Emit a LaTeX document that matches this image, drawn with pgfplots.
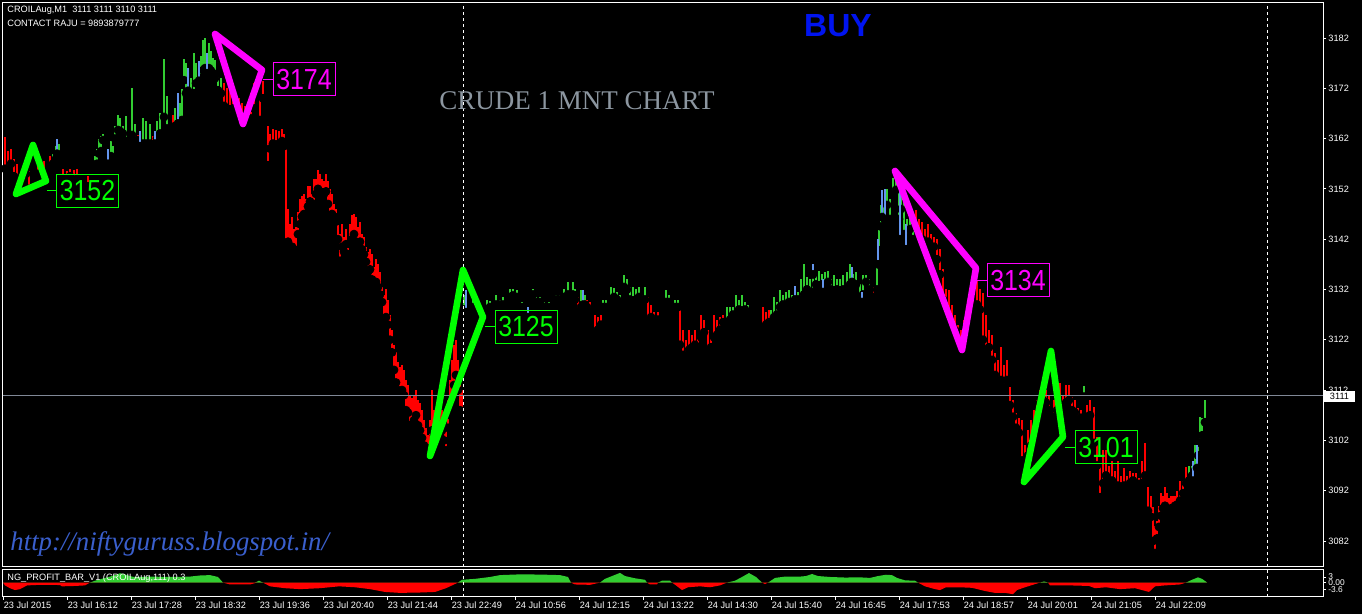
\documentclass[border=0pt]{standalone}
\usepackage{fontspec}
\setmainfont{Liberation Sans}
\newfontfamily\seriffont{Liberation Serif}
\usepackage{graphicx}
\usepackage{xcolor}
\usepackage{pgfplots}
\usepackage{pgfplotstable}
\pgfplotsset{compat=1.18}

\definecolor{mtgreen}{RGB}{50,205,50}
\definecolor{mtred}{RGB}{255,0,0}
\definecolor{mtblue}{RGB}{100,149,237}
\definecolor{neongreen}{RGB}{0,255,0}
\definecolor{neonmag}{RGB}{255,0,255}
\definecolor{pricegray}{RGB}{128,136,150}
\definecolor{titlegray}{RGB}{140,150,160}
\definecolor{urlblue}{RGB}{58,95,205}
\definecolor{buyblue}{RGB}{0,20,240}

\newcommand{\mtfont}{\fontsize{4.6}{5}\selectfont}

% bars: x (chart px), low, high
\pgfplotstableread{
x lo hi
5 3156 3162.3
8 3155 3159.5
11 3157 3160
14 3154.5 3158
17 3153.5 3157
20 3152 3155
23 3153 3156.5
26 3155 3157
29 3152 3155.5
38 3155 3158
44 3154 3157.5
50 3156.5 3158.5
63 3154 3156
67 3153.5 3155.5
70 3154.5 3156
74 3153.8 3155.8
77 3154 3156
88 3152.5 3154.5
138 3161.7 3162.7
153 3160.5 3162.5
173 3163.7 3166.7
224 3168.5 3173
227 3168 3172
230 3166.5 3171.5
233 3168 3172
236 3167 3170.5
239 3166 3170
242 3166 3169
245 3166.6 3168.5
248 3165 3169
251 3166 3171
254 3168 3173
257 3171 3173.6
260 3165.7 3169.7
263 3170 3173.5
268 3156.7 3164.5
270 3160 3163
273 3161 3164
276 3160.5 3163.7
279 3161 3163.5
282 3161.5 3164
284 3160.5 3163
286 3140.4 3160.5
288 3141.5 3148
290 3139.5 3145
292 3140.5 3146.5
294 3140 3144
296 3139.5 3144.5
298 3143 3147.5
300 3145 3150
302 3146.5 3150.5
304 3147 3151
306 3147 3150
308 3148.5 3152.5
310 3149.5 3152.5
312 3148 3151
314 3149 3154
316 3151 3154
318 3152 3155.8
320 3151.5 3155
322 3150 3154
324 3151 3153.5
326 3151.5 3155
328 3149 3153.5
330 3146.5 3152
332 3147 3151
334 3146.5 3149
336 3145.5 3148
338 3142 3145
340 3137.7 3143
342 3140.5 3145
344 3139.5 3142.5
346 3141 3144
348 3139 3141
350 3141 3145
352 3142 3146.8
354 3143 3147
356 3141.5 3146.5
358 3140.5 3144.5
360 3141.5 3145.5
362 3140 3143
364 3139 3142.5
366 3137.5 3140.5
368 3135.5 3139.5
370 3136 3140
372 3134 3139
374 3133.3 3136.5
376 3133.5 3138
378 3132.5 3137
380 3131 3135.5
382 3129.5 3132.5
384 3125.5 3131
386 3126.5 3132
388 3125 3130
390 3122 3127
392 3119.5 3124
394 3116 3121
396 3113.5 3119.5
398 3112 3117.5
400 3111 3116.5
402 3112 3117
404 3111 3116
406 3108 3114
408 3107.5 3113
410 3105 3111
412 3103.8 3110.5
414 3106 3111
416 3107 3112
418 3105 3110
420 3104 3109.5
422 3102.5 3108
424 3101 3106
426 3100 3104.5
428 3099.5 3103
430 3100.5 3106
432 3104 3112
434 3103 3108
436 3102.5 3107
438 3101.5 3106
440 3103 3107.5
442 3104 3108
444 3102 3106
446 3100 3104.5
448 3104.5 3110
450 3107 3114
452 3110 3118
454 3113 3121
456 3115 3122
458 3112 3118
460 3108 3114
462 3107 3112
578 3127.5 3130.5
582 3128 3130.5
587 3128.5 3130
590 3127.5 3129.5
595 3123.6 3127
598 3124 3126.5
601 3125 3127
648 3125.5 3130.5
651 3126.5 3129
654 3125.5 3127.5
658 3126 3127.5
680 3121 3128.5
683 3119 3124
686 3118.6 3122
689 3120 3124
692 3120.5 3123
695 3121 3124
698 3120 3122.5
701 3122.5 3127
704 3123.5 3126
708 3119.5 3124
711 3120.5 3122.5
714 3122.5 3127
717 3123 3126
720 3124 3126.5
723 3125.5 3127
763 3124.5 3128.5
766 3125 3127.5
769 3125.5 3128
874 3130.5 3132.5
916 3143 3147.8
919 3141 3146
922 3142 3145.5
925 3140 3144
928 3141.5 3145
931 3139.9 3143
934 3140.5 3142.5
937 3138 3142
940 3135 3140
943 3130 3136
946 3127 3132
949 3126 3131.9
952 3124 3129
955 3123.9 3127
958 3121 3125
961 3120.5 3124
964 3122 3126
967 3124 3128
970 3126 3129
973 3128 3132
977 3129 3133.9
980 3128 3132
983 3122 3131.3
986 3120 3127
989 3120.5 3124
992 3118 3123
995 3115 3119.4
998 3113.5 3118
1001 3114 3120.6
1004 3112.6 3117
1007 3114 3118
1010 3109 3112.6
1013 3106.7 3110
1016 3104.5 3107.5
1019 3103.5 3106.5
1022 3098 3106
1025 3096.7 3101
1028 3099 3104
1031 3101 3106
1034 3102 3108
1037 3104 3110
1040 3109.5 3112
1043 3110 3114
1046 3109.5 3112
1049 3108 3111
1054 3106.7 3110
1057 3108 3111.5
1060 3109 3113.5
1063 3108.5 3111
1066 3109.5 3113
1069 3110 3113
1072 3108 3110.7
1075 3107.5 3110
1078 3106 3108.5
1081 3106.5 3108
1087 3106.7 3109
1090 3107 3110
1094 3101.5 3108.7
1097 3097 3102.7
1100 3090.7 3097
1103 3093.5 3100
1106 3095 3100
1109 3093.5 3097
1112 3094 3098
1115 3092 3096
1118 3093 3098
1121 3091.6 3095
1124 3093 3096.5
1127 3092 3095
1130 3093.5 3096
1133 3094 3095.5
1136 3093.5 3095.5
1139 3092.5 3094.5
1142 3093.5 3098
1145 3095 3101.5
1148 3088 3092.8
1151 3086.8 3091
1153 3082 3088.8
1155 3079.6 3085
1157 3082.5 3086
1159 3084.8 3089
1161 3087 3091.6
1163 3088.5 3091
1165 3089 3092.8
1167 3088 3091.5
1169 3087.6 3090.5
1171 3088.5 3091
1173 3088 3091
1175 3089 3091
1177 3089.2 3092
1180 3090 3094
1183 3091.5 3094
1186 3093.5 3096.7
}\redbars

\pgfplotstableread{
x lo hi
53 3157 3159
56 3158 3160.5
59 3158.5 3161
95 3156.5 3158.5
97 3157 3160
99 3159 3162
101 3159.5 3162.5
103 3161.7 3162.9
111 3158.5 3161.5
113 3158 3160.5
115 3162 3164.5
118 3163.7 3166.7
120 3163.5 3166
123 3163 3164.5
126 3161.5 3166.5
132 3162.7 3172
135 3161.5 3165
143 3161 3166
146 3161 3165.5
150 3161 3165
157 3162 3165.5
160 3163 3167
164 3166.3 3177.8
167 3164 3170.5
175 3164.5 3168
180 3164 3169
182 3165.7 3171.8
184 3173.6 3177.8
186 3171 3177
191 3170.5 3174
194 3171 3179
196 3173 3177
201 3174 3178.5
203 3175.6 3181.6
205 3176 3182
209 3176 3181
211 3175.5 3179.5
213 3175 3178
215 3174 3177.6
218 3171.6 3174.2
221 3171 3174
464 3128 3131
473 3128.5 3130
487 3128 3130
490 3128.5 3129.8
496 3129 3131
500 3129 3130
503 3129 3130.5
510 3130.5 3132
513 3130.8 3132
517 3130.5 3131.8
522 3128.5 3129.5
533 3131 3132
536 3129.5 3130.5
540 3129.5 3130.5
544 3128.5 3129.5
549 3128.5 3129.5
556 3130 3131
560 3130 3131
564 3130.5 3132
568 3131 3133.5
573 3131 3133.5
575 3130 3132
581 3128.5 3131.9
585 3129 3131
603 3128.5 3130
606 3128.5 3130
611 3130 3132.5
614 3130.5 3132.3
617 3130 3131.5
620 3129.5 3131
624 3132.5 3134.9
627 3132 3134
630 3130 3132.5
633 3129.5 3132.5
636 3130 3132
639 3130.5 3132.5
642 3129.5 3131
645 3130 3132.5
666 3129.5 3131.9
669 3129.5 3131
675 3128.5 3130
678 3128.5 3130
727 3125.5 3128.5
730 3126 3128.5
733 3127 3128.5
736 3127 3131
739 3128 3130
742 3127.5 3131
745 3128 3129.5
748 3127 3129
771 3125.5 3128
774 3126.5 3130.5
777 3127 3129.5
780 3128.5 3131.9
783 3129 3131
786 3128.5 3131.5
789 3129.5 3131.9
792 3129 3131
798 3130 3131.5
801 3129.5 3134
804 3131 3137
807 3132 3134.5
810 3131 3134
813 3131.5 3136
816 3133 3135
819 3132.3 3135.7
822 3133 3135
825 3132.5 3135.5
828 3133.5 3135.7
831 3132 3134
834 3131.3 3134.9
837 3132 3134
840 3131.5 3134
843 3132 3134.9
847 3132 3135.5
850 3133 3137
853 3132.5 3135
856 3133 3135.5
860 3130.5 3133
863 3131 3134.9
866 3133.5 3134.9
869 3132 3134
877 3132 3137
879 3139.8 3143.8
881 3144.5 3148.8
884 3146.4 3148.8
887 3148.8 3152
890 3146 3150
893 3150.8 3154.1
896 3151.8 3154.2
899 3146 3152
901 3148 3153
904 3143 3149.8
907 3141.8 3146
910 3144 3147
913 3142 3146
1084 3110.7 3112.8
1189 3094 3097
1192 3095 3097
1195 3096 3101
1198 3099 3102
1200 3101.5 3106.7
1202 3103 3106.5
1205 3105.6 3110
}\greenbars

\pgfplotstableread{
x lo hi
57 3159 3162
108 3157 3160
140 3160.5 3163.5
155 3161 3163.5
178 3165 3171
188 3171.5 3176
199 3173.5 3177.5
207 3175 3179
466 3127.5 3131.9
528 3126.5 3128.5
583 3129 3131.9
795 3130 3132.6
813 3135 3137
823 3131.5 3134
852 3133.5 3136.5
862 3129.5 3131.5
878 3137 3142
882 3146.4 3151.8
885 3145.8 3152
900 3142 3152
906 3140 3145
1193 3094 3098
1197 3096.5 3101
}\bluebars

\pgfplotsset{
  bars/.style={only marks, mark=none, forget plot,
    error bars/.cd, y dir=plus, y explicit, error mark=none,
    error bar style={draw=#1, line width=0.9pt}},
}

\begin{document}
\begin{tikzpicture}
\fill[black] (0,0) rectangle (681pt,307pt);

\begin{axis}[
  at={(1.5pt,23.5pt)}, anchor=south west,
  scale only axis, width=660pt, height=282pt,
  xmin=3, xmax=1323, ymin=3076.83, ymax=3188.96,
  axis line style={white, line width=0.5pt},
  xtick=\empty,
  ytick={3082,3092,3102,3112,3122,3132,3142,3152,3162,3172,3182},
  yticklabels={3082,3092,3102,3112,3122,3132,3142,3152,3162,3172,3182},
  ytick pos=right, yticklabel pos=right,
  tick align=outside, major tick length=1.5pt,
  tick style={white, line width=0.4pt},
  yticklabel style={font=\mtfont, text=white, inner sep=1pt},
  clip mode=individual,
]
\addplot[bars=mtred] table[x=x, y=lo, y error expr=\thisrow{hi}-\thisrow{lo}] {\redbars};
\addplot[bars=mtgreen] table[x=x, y=lo, y error expr=\thisrow{hi}-\thisrow{lo}] {\greenbars};
\addplot[bars=mtblue] table[x=x, y=lo, y error expr=\thisrow{hi}-\thisrow{lo}] {\bluebars};

% current price line
\addplot[pricegray, line width=0.5pt] coordinates {(3,3111) (1323,3111)};
% period separators
\addplot[white, line width=0.5pt, dash pattern=on 1.5pt off 1.5pt] coordinates {(463,3076.83) (463,3188.96)};
\addplot[white, line width=0.5pt, dash pattern=on 1.5pt off 1.5pt] coordinates {(1267,3076.83) (1267,3188.96)};

% pattern triangles
\addplot[neongreen, line width=3.3pt, line join=round, line cap=round]
  coordinates {(16,3150.99) (33,3160.73) (46,3153.57) (16,3150.99)};
\addplot[neonmag, line width=3.3pt, line join=round, line cap=round]
  coordinates {(215,3182.8) (262,3175.64) (243,3164.9) (215,3182.8)};
\addplot[neongreen, line width=3.3pt, line join=round, line cap=round]
  coordinates {(430,3098.9) (463,3135.88) (483,3126.53) (430,3098.9)};
\addplot[neonmag, line width=3.3pt, line join=round, line cap=round]
  coordinates {(895,3155.56) (976,3136.27) (962,3119.97) (895,3155.56)};
\addplot[neongreen, line width=3.3pt, line join=round, line cap=round]
  coordinates {(1024,3093.73) (1051,3119.77) (1063,3102.68) (1024,3093.73)};

% connectors
\addplot[neongreen, line width=0.5pt] coordinates {(47,3151.7) (57,3151.7)};
\addplot[neonmag, line width=0.5pt] coordinates {(263,3173.75) (273,3173.75)};
\addplot[neongreen, line width=0.5pt] coordinates {(485,3124.64) (495,3124.64)};
\addplot[neonmag, line width=0.5pt] coordinates {(977,3133.8) (987,3133.8)};
\addplot[neongreen, line width=0.5pt] coordinates {(1065,3100.6) (1075,3100.6)};

\tikzset{lvl/.style={draw=#1, text=#1, line width=0.5pt, inner sep=0pt,
  minimum width=31pt, minimum height=16.5pt, font=\fontsize{14.5}{15}\selectfont}}
\node[lvl=neongreen] at (axis cs:87.5,3151.68) {\scalebox{0.86}[1]{3152}};
\node[lvl=neonmag] at (axis cs:304,3173.75) {\scalebox{0.86}[1]{3174}};
\node[lvl=neongreen] at (axis cs:526,3124.64) {\scalebox{0.86}[1]{3125}};
\node[lvl=neonmag] at (axis cs:1018,3133.8) {\scalebox{0.86}[1]{3134}};
\node[lvl=neongreen] at (axis cs:1106,3100.6) {\scalebox{0.86}[1]{3101}};
\end{axis}

\begin{axis}[
  at={(1.5pt,8.5pt)}, anchor=south west,
  scale only axis, width=660pt, height=13.5pt,
  xmin=3, xmax=1323, ymin=-7.7, ymax=6.74,
  axis line style={white, line width=0.5pt},
  xtick={3,67,131,195,259,323,387,451,515,579,643,707,771,835,899,963,1027,1091,1155},
  xticklabels={23 Jul 2015,23 Jul 16:12,23 Jul 17:28,23 Jul 18:32,23 Jul 19:36,23 Jul 20:40,23 Jul 21:44,23 Jul 22:49,24 Jul 10:56,24 Jul 12:15,24 Jul 13:22,24 Jul 14:30,24 Jul 15:40,24 Jul 16:45,24 Jul 17:53,24 Jul 18:57,24 Jul 20:01,24 Jul 21:05,24 Jul 22:09},
  xtick pos=bottom, xticklabel pos=bottom,
  ytick={-3.6,0,3}, yticklabels={-3.6,0.00,3},
  ytick pos=right, yticklabel pos=right,
  tick align=outside, major tick length=1.5pt,
  tick style={white, line width=0.4pt},
  xticklabel style={font=\mtfont, text=white, anchor=north west, inner sep=0.5pt, xshift=-0.3pt},
  yticklabel style={font=\fontsize{4.2}{4.5}\selectfont, text=white, inner sep=1pt},
]
\addplot[fill=mtgreen, draw=none] coordinates {
(3,0)(90,0)(95,1)(105,2.5)(112,3.5)(120,5)(124,4.5)(130,3.5)(134,3)(150,3.2)(170,3)(190,3.2)(200,3.8)(210,4)(218,3)(223,0)
(255,0)(259,1)(263,0)(458,0)(462,1.5)(475,2)(490,3)(500,4)(520,4.4)(540,4.3)(560,4)(568,3)(571,0)
(600,0)(605,2)(612,3.5)(620,5.2)(625,3.5)(635,2.3)(645,1.5)(647,0)(658,0)(662,1)(670,1)(672,0)
(727,0)(735,1)(742,3)(749,5.1)(756,3)(762,0)(768,0)(775,2.5)(785,3.2)(800,3.2)(806,3.5)(812,4.6)(818,3.5)
(830,3)(845,2.7)(860,2.8)(870,2.5)(878,3.5)(886,4.2)(892,4)(897,2.5)(905,1.2)(915,1)(918,0)
(1040,0)(1044,0.6)(1048,0)(1186,0)(1192,1.5)(1198,2.8)(1202,2)(1206,0.5)(1207,0)
} \closedcycle;
\addplot[fill=mtred, draw=none] coordinates {
(3,0)(5,-1.5)(10,-3)(15,-4)(20,-3.5)(27,-1.5)(40,-1.2)(60,-1.3)(62,-2)(75,-1.8)(85,-1.5)(90,0)
(223,0)(230,-1)(250,-1)(257,0)(263,0)(270,-2)(285,-3)(300,-3.5)(320,-3)(339,-2)(355,-2.5)(370,-3.5)
(385,-5)(400,-5.5)(420,-5.3)(435,-5)(446,-3)(458,0)(571,0)(575,-1)(590,-1.2)(600,0)
(647,0)(650,-1)(657,-1)(658,0)(672,0)(676,-1.5)(682,-4)(688,-2.5)(700,-2)(710,-2.5)(720,-1.5)(727,0)
(762,0)(765,-0.8)(768,0)(918,0)(925,-2)(935,-3.5)(940,-4)(946,-2.5)(960,-2.5)(972,-2.8)(985,-4.5)
(995,-5.5)(1005,-5.5)(1013,-6.2)(1017,-4)(1025,-2.5)(1040,0)(1048,0)(1050,-1.5)(1070,-1.5)(1089,-1.8)
(1095,-3)(1106,-2.5)(1120,-3.5)(1135,-3)(1149,-5)(1155,-2)(1165,-1.5)(1180,-1)(1186,0)(1207,0)
} \closedcycle;
\addplot[white, line width=0.5pt, dash pattern=on 1.5pt off 1.5pt] coordinates {(463,-7.7) (463,6.74)};
\addplot[white, line width=0.5pt, dash pattern=on 1.5pt off 1.5pt] coordinates {(1267,-7.7) (1267,6.74)};
\end{axis}

% texts
\node[anchor=west, text=white, font=\mtfont, inner sep=0pt] at (3.5pt,302pt) {CROILAug,M1\ \ 3111 3111 3110 3111};
\node[anchor=west, text=white, font=\mtfont, inner sep=0pt] at (3.5pt,295.5pt) {CONTACT RAJU = 9893879777};
\node[text=buyblue, font=\fontsize{16}{16}\selectfont\bfseries, inner sep=0pt] at (419pt,294pt) {BUY};
\node[text=titlegray, font=\seriffont\fontsize{13.5}{14}\selectfont, inner sep=0pt] at (288.5pt,256.5pt) {CRUDE 1 MNT CHART};
\node[anchor=west, text=urlblue, font=\seriffont\itshape\fontsize{13.4}{14}\selectfont, inner sep=0pt] at (5pt,35pt) {http://niftyguruss.blogspot.in/};
\node[anchor=west, text=white, font=\mtfont, inner sep=0pt] at (3.5pt,18pt) {NG\_PROFIT\_BAR\_V1 (CROILAug,111) 0.3};
\node[fill=white, text=black, font=\mtfont, inner sep=0pt, minimum width=15.5pt, minimum height=5.5pt] at (669.75pt,108.75pt) {3111};

\pgfresetboundingbox
\useasboundingbox (0,0) rectangle (681pt,307pt);
\end{tikzpicture}
\end{document}
